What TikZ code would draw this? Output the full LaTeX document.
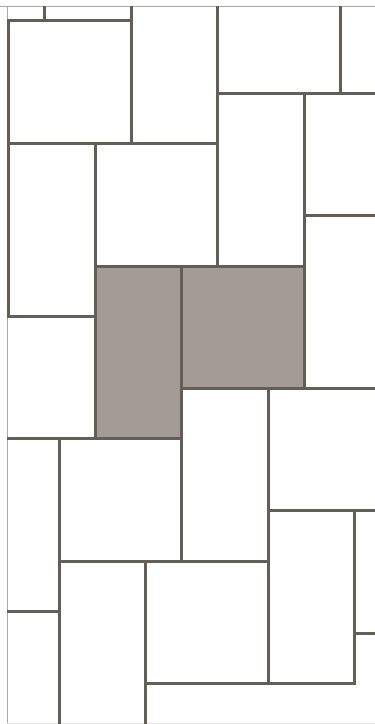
\documentclass[tikz,border=0pt]{standalone}
\begin{document}
\begin{tikzpicture}[x=1pt,y=-1pt,
  joint/.style={draw=tileline,line width=3pt,line cap=rect},
  frame/.style={draw=framegray,line width=1pt},
  hilite/.style={fill=tilefill,draw=tileline,line width=3pt}]
\definecolor{tileline}{HTML}{645E58}
\definecolor{tilefill}{HTML}{A59B96}
\definecolor{framegray}{HTML}{A8A8A8}
\definecolor{framelight}{HTML}{E2E2E2}
\useasboundingbox (0,0) rectangle (375,724);
\fill[white] (0,0) rectangle (375,724);
% highlighted tiles
\filldraw[hilite] (95,266) rectangle (181,438);
\filldraw[hilite] (181,266) rectangle (304,388);
% outer frame
\draw[frame] (0,6.5) -- (375,6.5);
\draw[frame] (7,6.5) -- (7,723);
\draw[draw=framelight,line width=1pt] (7,723) -- (375,723);
% joints
\draw[joint] (8,20) -- (131,20);
\draw[joint] (44,7) -- (44,20);
\draw[joint] (131,7) -- (131,143);
\draw[joint] (8,20) -- (8,316);
\draw[joint] (8,143) -- (217,143);
\draw[joint] (95,143) -- (95,438);
\draw[joint] (8,316) -- (95,316);
\draw[joint] (217,7) -- (217,266);
\draw[joint] (217,93) -- (375,93);
\draw[joint] (340,7) -- (340,93);
\draw[joint] (304,93) -- (304,388);
\draw[joint] (304,215) -- (375,215);
\draw[joint] (95,266) -- (304,266);
\draw[joint] (181,266) -- (181,561);
\draw[joint] (8,438) -- (181,438);
\draw[joint] (59,438) -- (59,723);
\draw[joint] (181,388) -- (375,388);
\draw[joint] (268,388) -- (268,683);
\draw[joint] (268,510) -- (375,510);
\draw[joint] (354,510) -- (354,683);
\draw[joint] (354,633) -- (375,633);
\draw[joint] (59,561) -- (268,561);
\draw[joint] (8,611) -- (59,611);
\draw[joint] (145,561) -- (145,723);
\draw[joint] (145,683) -- (354,683);
\end{tikzpicture}
\end{document}
